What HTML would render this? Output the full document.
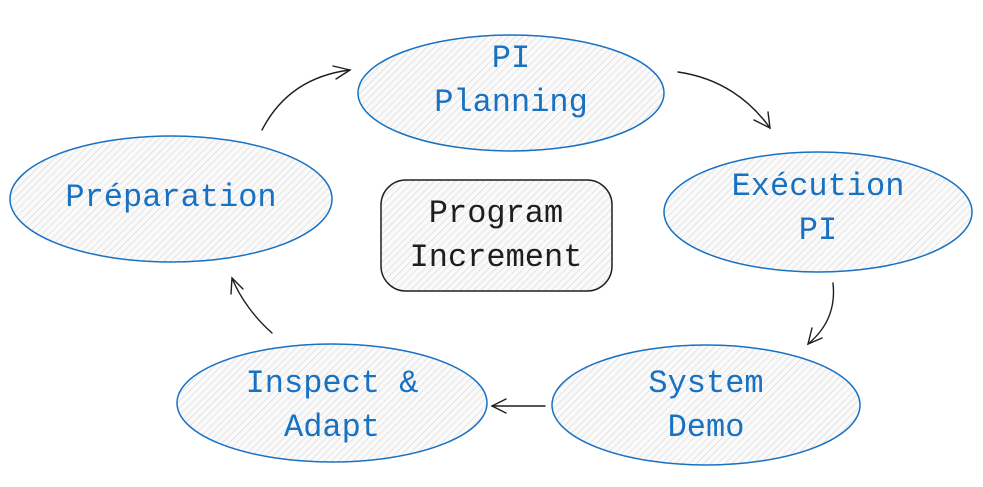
<!DOCTYPE html>
<html><head><meta charset="utf-8"><style>
html,body{margin:0;padding:0;background:#fff;width:983px;height:487px;overflow:hidden}
text{font-family:"Liberation Mono",monospace;font-size:32px;text-anchor:middle}
</style></head><body>
<svg width="983" height="487" viewBox="0 0 983 487" xmlns="http://www.w3.org/2000/svg">
<defs>
<pattern id="h" width="5" height="5" patternUnits="userSpaceOnUse" patternTransform="rotate(45)">
<rect width="5" height="5" fill="#fafafa"/>
<line x1="0" y1="0" x2="0" y2="5" stroke="#d6d6d6" stroke-width="1.2"/>
</pattern>
</defs>
<g fill="url(#h)" stroke="#1971c2" stroke-width="1.5">
<ellipse cx="511" cy="93" rx="153" ry="58"/>
<ellipse cx="818" cy="212" rx="154" ry="60"/>
<ellipse cx="706" cy="405" rx="154" ry="60"/>
<ellipse cx="332" cy="403" rx="155" ry="59"/>
<ellipse cx="171" cy="199" rx="161" ry="63"/>
</g>
<rect x="381" y="180" width="231" height="111" rx="25" fill="url(#h)" stroke="#1e1e1e" stroke-width="1.5"/>
<g fill="none" stroke="#1e1e1e" stroke-width="1.4" stroke-linecap="round">
<path d="M262 130 C280 95 310 75 350 70"/><path d="M333 66 L350 70 L336 79"/>
<path d="M678 72 C720 78 750 100 770 128"/><path d="M754 120 L770 128 L768 112"/>
<path d="M833 283 C836 310 825 330 808 344"/><path d="M812 328 L808 344 L822 338"/>
<path d="M545 406 L492 406"/><path d="M506 399 L492 406 L506 413"/>
<path d="M272 333 C255 318 240 298 232 278"/><path d="M231 294 L232 278 L243 289"/>
</g>
<g fill="#1971c2">
<text x="511" y="67">PI</text><text x="511" y="111">Planning</text>
<text x="818" y="195">Exécution</text><text x="818" y="239">PI</text>
<text x="706" y="392">System</text><text x="706" y="436">Demo</text>
<text x="332" y="392">Inspect &amp;</text><text x="332" y="436">Adapt</text>
<text x="171" y="206">Préparation</text>
</g>
<g fill="#1e1e1e">
<text x="496" y="222">Program</text><text x="496" y="266">Increment</text>
</g>
</svg>
</body></html>
